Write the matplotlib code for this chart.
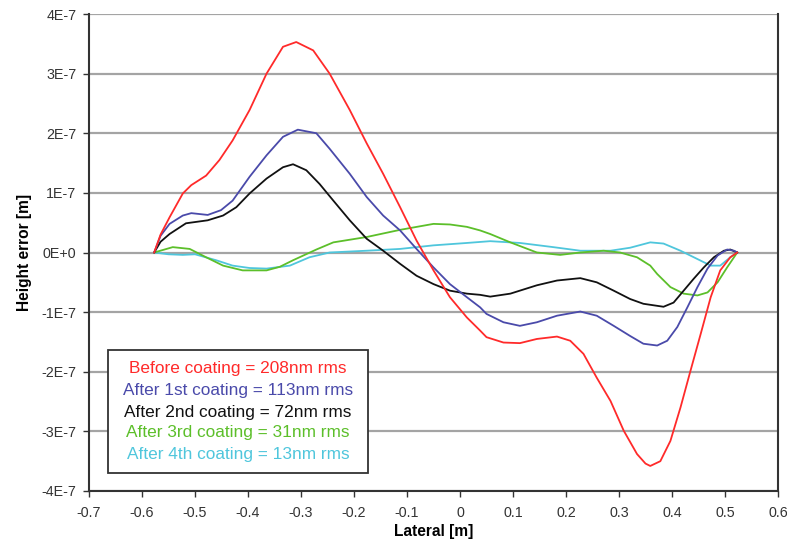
import matplotlib
matplotlib.use("Agg")
import matplotlib.pyplot as plt
from matplotlib.patches import Rectangle

plt.rcParams['font.family'] = ['Liberation Sans', 'DejaVu Sans']

# Data (x in m, y in units of 1E-7 m)
red_x = [-0.577, -0.565, -0.548, -0.523, -0.507, -0.479, -0.454, -0.429, -0.397, -0.365, -0.334,
         -0.309, -0.277, -0.246, -0.208, -0.176, -0.145, -0.113, -0.082, -0.05, -0.019, 0.013,
         0.038, 0.05, 0.082, 0.113, 0.145, 0.183, 0.208, 0.233, 0.258, 0.284, 0.309, 0.334, 0.35,
         0.359, 0.378, 0.397, 0.416, 0.435, 0.454, 0.473, 0.491, 0.51, 0.523]
red_y = [0.0, 0.3, 0.59, 0.99, 1.13, 1.29, 1.55, 1.88, 2.39, 3.0, 3.45,
         3.53, 3.39, 3.0, 2.39, 1.83, 1.32, 0.76, 0.2, -0.3, -0.75, -1.09,
         -1.31, -1.42, -1.51, -1.52, -1.45, -1.41, -1.48, -1.7, -2.1, -2.49, -2.99, -3.38, -3.54,
         -3.58, -3.5, -3.16, -2.6, -1.98, -1.37, -0.75, -0.3, -0.08, 0.0]

blue_x = [-0.577, -0.565, -0.548, -0.523, -0.507, -0.476, -0.451, -0.429, -0.397, -0.365, -0.334,
          -0.306, -0.271, -0.246, -0.208, -0.176, -0.145, -0.113, -0.082, -0.05, -0.019, 0.013,
          0.038, 0.05, 0.082, 0.113, 0.145, 0.183, 0.227, 0.258, 0.29, 0.321, 0.346, 0.372, 0.391,
          0.41, 0.429, 0.448, 0.467, 0.486, 0.504, 0.517, 0.523]
blue_y = [0.0, 0.28, 0.48, 0.62, 0.66, 0.63, 0.71, 0.87, 1.27, 1.63, 1.94,
          2.06, 2.0, 1.74, 1.32, 0.93, 0.62, 0.37, 0.06, -0.25, -0.53, -0.75,
          -0.92, -1.03, -1.17, -1.23, -1.17, -1.06, -0.99, -1.06, -1.23, -1.4, -1.53, -1.56, -1.48,
          -1.25, -0.92, -0.58, -0.27, -0.05, 0.05, 0.03, 0.0]

black_x = [-0.577, -0.565, -0.548, -0.517, -0.476, -0.447, -0.422, -0.397, -0.365, -0.334, -0.315,
           -0.29, -0.265, -0.239, -0.208, -0.176, -0.145, -0.113, -0.082, -0.05, -0.019, 0.013,
           0.038, 0.057, 0.095, 0.145, 0.183, 0.227, 0.258, 0.29, 0.321, 0.346, 0.384, 0.403,
           0.422, 0.441, 0.46, 0.479, 0.498, 0.51, 0.523]
black_y = [0.0, 0.18, 0.31, 0.49, 0.54, 0.62, 0.76, 0.99, 1.24, 1.43, 1.48,
           1.38, 1.15, 0.87, 0.54, 0.23, 0.03, -0.19, -0.39, -0.53, -0.64, -0.69,
           -0.71, -0.74, -0.69, -0.55, -0.47, -0.43, -0.5, -0.64, -0.78, -0.86, -0.91, -0.84,
           -0.64, -0.44, -0.25, -0.08, 0.03, 0.05, 0.0]

green_x = [-0.577, -0.542, -0.51, -0.479, -0.447, -0.41, -0.365, -0.34, -0.315, -0.271, -0.239,
           -0.176, -0.113, -0.05, -0.019, 0.013, 0.038, 0.057, 0.095, 0.145, 0.189, 0.227, 0.271,
           0.302, 0.334, 0.359, 0.372, 0.397, 0.422, 0.448, 0.467, 0.486, 0.504, 0.517, 0.523]
green_y = [0.0, 0.09, 0.06, -0.08, -0.22, -0.3, -0.3, -0.24, -0.13, 0.05, 0.17,
           0.26, 0.38, 0.48, 0.47, 0.43, 0.37, 0.31, 0.17, 0.0, -0.04, 0.0, 0.03,
           0.0, -0.08, -0.22, -0.36, -0.58, -0.69, -0.72, -0.67, -0.5, -0.25, -0.08, 0.0]

cyan_x = [-0.577, -0.55, -0.523, -0.5, -0.46, -0.429, -0.397, -0.365, -0.321, -0.284, -0.246,
          -0.176, -0.113, -0.05, 0.013, 0.057, 0.113, 0.176, 0.227, 0.284, 0.321, 0.359, 0.384,
          0.416, 0.448, 0.473, 0.491, 0.51, 0.523]
cyan_y = [0.0, -0.03, -0.04, -0.03, -0.13, -0.22, -0.26, -0.27, -0.22, -0.08, 0.0,
          0.03, 0.06, 0.12, 0.16, 0.19, 0.16, 0.09, 0.03, 0.03, 0.08, 0.17, 0.15,
          0.03, -0.11, -0.22, -0.22, -0.08, 0.0]

series_labels = ["Before coating = 208nm rms", "After 1st coating = 113nm rms",
                 "After 2nd coating = 72nm rms", "After 3rd coating = 31nm rms",
                 "After 4th coating = 13nm rms"]
series_colors = ["#ff2a2a", "#4a4aaa", "#111111", "#5cbf2a", "#4fc6dc"]

x_ticks = [-0.7, -0.6, -0.5, -0.4, -0.3, -0.2, -0.1, 0, 0.1, 0.2, 0.3, 0.4, 0.5, 0.6]
x_tick_labels = ["-0.7", "-0.6", "-0.5", "-0.4", "-0.3", "-0.2", "-0.1", "0", "0.1", "0.2",
                 "0.3", "0.4", "0.5", "0.6"]
y_ticks = [4e-7, 3e-7, 2e-7, 1e-7, 0, -1e-7, -2e-7, -3e-7, -4e-7]
y_tick_labels = ["4E-7", "3E-7", "2E-7", "1E-7", "0E+0", "-1E-7", "-2E-7", "-3E-7", "-4E-7"]

fig = plt.figure(figsize=(7.87, 5.45), dpi=100)
ax = fig.add_axes([89 / 787, 1 - 491 / 545, 689 / 787, 477 / 545])

for yv in y_ticks:
    ax.axhline(yv, color="#a4a4a4", lw=1.6, zorder=1)

xs = [red_x, blue_x, black_x, green_x, cyan_x]
ys = [red_y, blue_y, black_y, green_y, cyan_y]
order = [4, 3, 2, 1, 0]
for i in order:
    ax.plot(xs[i], [v * 1e-7 for v in ys[i]], color=series_colors[i], lw=1.3, zorder=3,
            solid_joinstyle='round')

ax.set_xlim(-0.7, 0.6)
ax.set_ylim(-4e-7, 4e-7)
ax.set_xticks(x_ticks)
ax.set_xticklabels(x_tick_labels)
ax.set_yticks(y_ticks)
ax.set_yticklabels(y_tick_labels)
ax.tick_params(axis='both', labelsize=10.3, colors="#333333", length=4, width=1, direction='out')
ax.tick_params(axis='y', pad=5)
ax.tick_params(axis='x', pad=7)

for s in ['left', 'bottom', 'right']:
    ax.spines[s].set_color("#333333")
    ax.spines[s].set_linewidth(1.5)
ax.spines['top'].set_visible(False)
ax.tick_params(right=False, top=False)

ax.set_xlabel("Lateral [m]", fontsize=11.2, fontweight='bold', labelpad=3)
ax.set_ylabel("Height error [m]", fontsize=11.2, fontweight='bold', labelpad=7)

# legend box with coloured text
box = Rectangle((0.0276, 0.038), 0.405 - 0.0276, 0.296 - 0.038, transform=ax.transAxes,
                facecolor='white', edgecolor='#333333', lw=1.3, zorder=5)
ax.add_patch(box)
line_y_px = [368, 390, 412, 433, 455]
for lab, col, ypx in zip(series_labels, series_colors, line_y_px):
    ax.text(0.216, (491 - ypx) / 477, lab, transform=ax.transAxes, ha='center', va='center',
            color=col, fontsize=12.4, zorder=6)

fig.savefig("out.png", dpi=100)
